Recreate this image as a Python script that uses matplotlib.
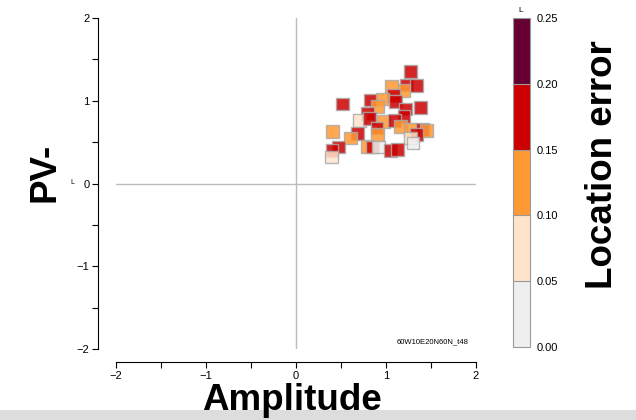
"""Amplitude vs PV- scatter coloured by location error"""
import numpy as np
import matplotlib.pyplot as plt
from matplotlib.colors import ListedColormap, BoundaryNorm
from matplotlib.patches import Rectangle
from matplotlib.ticker import MultipleLocator

plt.rcParams["font.family"] = ["Liberation Sans", "DejaVu Sans"]

## Data
amplitude = [1.27, 1.23, 1.34, 1.06, 1.20, 1.08, 0.83, 0.52, 0.96, 1.11,
             0.91, 1.38, 1.22, 0.79, 1.20, 0.71, 0.82, 0.97, 1.09, 1.16,
             0.90, 1.27, 1.41, 1.45, 0.41, 0.68, 1.34, 0.61, 0.91, 1.27,
             1.30, 0.79, 0.85, 0.92, 1.05, 1.13, 0.47, 0.40, 0.39]
pv = [1.35, 1.19, 1.18, 1.17, 1.12, 1.06, 1.01, 0.96, 1.02, 0.99,
      0.93, 0.92, 0.90, 0.85, 0.81, 0.76, 0.79, 0.75, 0.76, 0.69,
      0.67, 0.65, 0.65, 0.64, 0.63, 0.60, 0.59, 0.55, 0.59, 0.55,
      0.49, 0.45, 0.44, 0.44, 0.40, 0.41, 0.44, 0.40, 0.32]
loc_error = [0.17, 0.17, 0.17, 0.12, 0.12, 0.17, 0.17, 0.17, 0.12, 0.17,
             0.12, 0.17, 0.17, 0.17, 0.17, 0.07, 0.17, 0.12, 0.17, 0.12,
             0.17, 0.12, 0.17, 0.12, 0.12, 0.17, 0.17, 0.12, 0.12, 0.07,
             0.03, 0.12, 0.17, 0.03, 0.17, 0.17, 0.17, 0.17, 0.07]

bounds = [0.0, 0.05, 0.10, 0.15, 0.20, 0.25]
bin_colors = ["#efefef", "#ffe4cc", "#ff9933", "#cc0000", "#660033"]

cmap = ListedColormap(bin_colors)
norm = BoundaryNorm(bounds, cmap.N)

fig = plt.figure(figsize=(6.36, 4.2), dpi=100)
ax = fig.add_axes([116 / 636, 71 / 420, 360 / 636, 331 / 420])

# reference cross
ax.axhline(0, color="#bbbbbb", lw=1, zorder=1)
ax.plot([0, 0], [-2, 2], color="#bbbbbb", lw=1, zorder=1)

ax.scatter(amplitude, pv, c=loc_error, cmap=cmap, norm=norm, marker="s",
           s=85, edgecolors="#aaaaaa", linewidths=1, alpha=0.85, zorder=3)

ax.set_xlim(-2, 2)
ax.set_ylim(-2, 2)
for side in ["top", "right"]:
    ax.spines[side].set_visible(False)
ax.spines["left"].set_position(("outward", 13))
ax.spines["bottom"].set_position(("outward", 9.5))
ax.spines["left"].set_bounds(-2, 2)
ax.spines["bottom"].set_bounds(-2, 2)
for axis in [ax.xaxis, ax.yaxis]:
    axis.set_major_locator(MultipleLocator(1))
    axis.set_minor_locator(MultipleLocator(0.5))
ax.tick_params(which="both", direction="out", length=4, width=0.8,
               labelsize=8, colors="black")
ax.tick_params(axis="y", pad=2)
ax.tick_params(axis="x", pad=2)

ax.text(0.98, 0.01, "60W10E20N60N_t48", transform=ax.transAxes,
        ha="right", va="bottom", fontsize=5.5)

## Colour bar
cax = fig.add_axes([513 / 636, 73 / 420, 17 / 636, 329 / 420])
sm = plt.cm.ScalarMappable(cmap=cmap, norm=norm)
cbar = fig.colorbar(sm, cax=cax, boundaries=bounds, ticks=bounds,
                    drawedges=True)
cbar.outline.set_edgecolor("#999999")
cbar.outline.set_linewidth(0.8)
cbar.dividers.set_color("#999999")
cbar.dividers.set_linewidth(0.8)
cbar.ax.tick_params(length=0, labelsize=8, pad=5)
cbar.ax.set_yticklabels([f"{b:.2f}" for b in bounds])

## Labels
fig.text(292 / 636, 1 - 401 / 420, "Amplitude", ha="center", va="center",
         fontsize=26.5, fontweight="bold")
fig.text(45 / 636, 1 - 172 / 420, "PV-", ha="center", va="center",
         fontsize=26.5, fontweight="bold", rotation=90)
fig.text(603 / 636, 1 - 165 / 420, "Location error", ha="center",
         va="center", fontsize=26.5, fontweight="bold", rotation=90)
fig.text(521 / 636, 1 - 10 / 420, "L", ha="center", va="center", fontsize=6)
fig.text(72 / 636, 1 - 183 / 420, "L", ha="center", va="center", fontsize=5)

# grey strip at the bottom of the page
fig.patches.append(Rectangle((0, 0), 1, 10 / 420, transform=fig.transFigure,
                             facecolor="#dddddd", edgecolor="none"))

fig.savefig("out.png", dpi=100)
